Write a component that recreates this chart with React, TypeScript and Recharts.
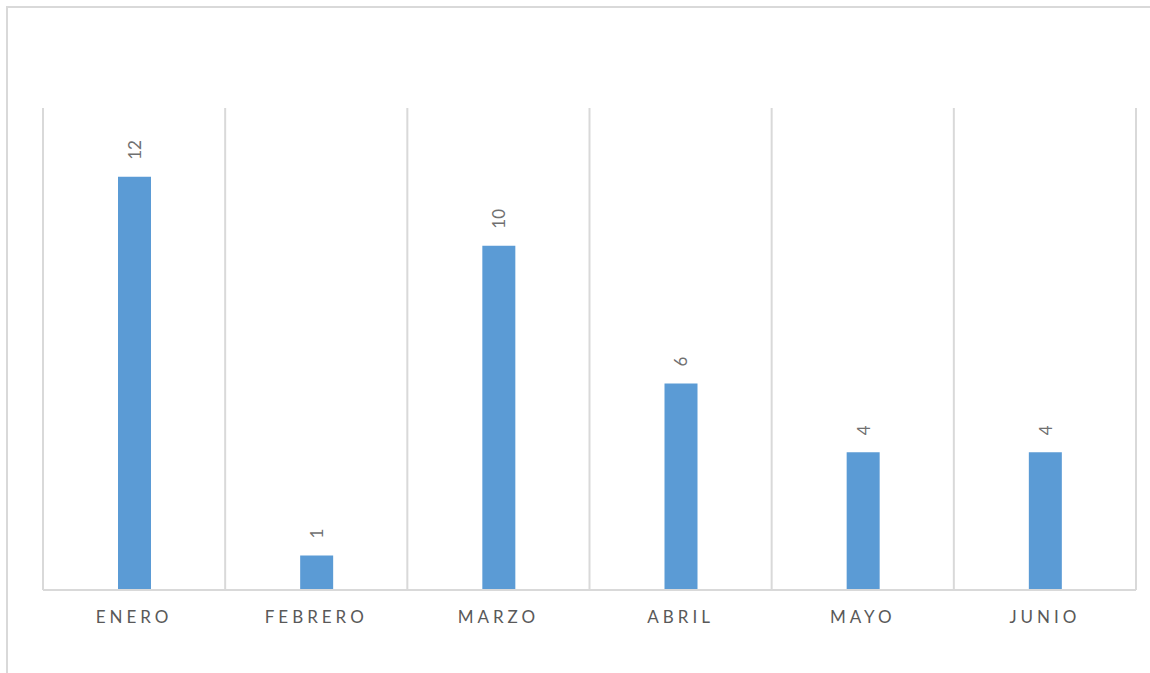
import { Bar, BarChart, CartesianGrid, LabelList, XAxis, YAxis } from 'recharts';

const months = ['ENERO', 'FEBRERO', 'MARZO', 'ABRIL', 'MAYO', 'JUNIO'];
const counts = [12, 1, 10, 6, 4, 4];
const yDomain = [0, 14];

const data = months.map((m, i) => ({ month: m, value: counts[i] }));

const TEXT = '#595959';
const LABEL = '#707070';
const GRID = '#d9d9d9';
const FONT = 'Lato, "Open Sans", sans-serif';

// rotated value label sitting just above the bar
function ValueLabel(props: any) {
  const { x, y, width, value } = props;
  const cx = Number(x) + Number(width) / 2;
  const cy = Number(y) - 17;
  return (
    <text
      x={cx}
      y={cy}
      transform={`rotate(-90 ${cx} ${cy})`}
      textAnchor="start"
      dominantBaseline="central"
      fill={LABEL}
      fontSize={17}
      fontFamily={FONT}
    >
      {value}
    </text>
  );
}

function MonthTick(props: any) {
  const { x, y, payload } = props;
  return (
    <text
      x={x}
      y={y + 25}
      textAnchor="middle"
      fill={TEXT}
      fontSize={17}
      fontFamily={FONT}
      style={{ letterSpacing: '4px' }}
    >
      {payload.value}
    </text>
  );
}

export default function App() {
  return (
    <div style={{ position: 'absolute', left: 0, top: 0, width: 1150, height: 673, background: '#fff' }}>
      <div
        style={{
          position: 'absolute',
          left: 6,
          top: 6,
          width: 1150,
          height: 680,
          borderTop: `2px solid ${GRID}`,
          borderLeft: `2px solid ${GRID}`,
        }}
      />
      <div style={{ position: 'absolute', left: 0, top: 0 }}>
        <BarChart
          width={1150}
          height={673}
          data={data}
          margin={{ top: 108, right: 14, bottom: 53, left: 43 }}
        >
          <CartesianGrid
            horizontal={false}
            stroke={GRID}
            strokeWidth={2}
            strokeDasharray=""
            verticalCoordinatesGenerator={({ offset }: any) =>
              Array.from({ length: months.length + 1 }, (_, i) => offset.left + (i * offset.width) / months.length)
            }
          />
          <XAxis
            dataKey="month"
            height={30}
            axisLine={{ stroke: GRID, strokeWidth: 2 }}
            tickLine={false}
            tick={<MonthTick />}
            interval={0}
          />
          <YAxis hide domain={yDomain} />
          <Bar dataKey="value" fill="#5B9BD5" barSize={33} isAnimationActive={false}>
            <LabelList dataKey="value" content={<ValueLabel />} />
          </Bar>
        </BarChart>
      </div>
    </div>
  );
}
